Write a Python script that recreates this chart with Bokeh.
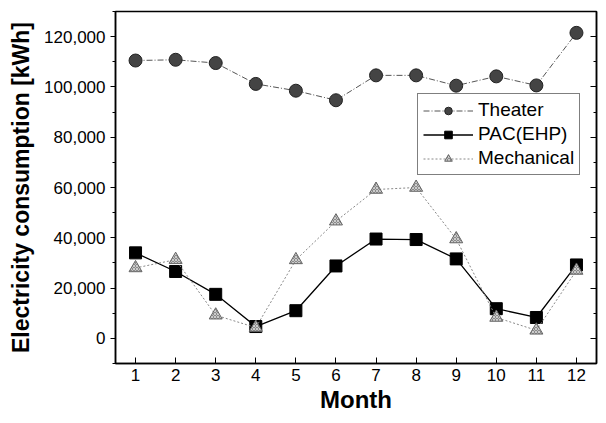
from bokeh.plotting import figure
from bokeh.embed import file_html
from bokeh.resources import INLINE
from bokeh.models import (Range1d, NumeralTickFormatter, FixedTicker, LinearAxis,
                          Legend, LegendItem)

months = [1, 2, 3, 4, 5, 6, 7, 8, 9, 10, 11, 12]
theater = [110500, 110800, 109500, 101200, 98500, 94700, 104600, 104600, 100500, 104200, 100600, 121500]
pac_ehp = [34000, 26600, 17500, 4700, 11000, 28800, 39500, 39300, 31600, 11800, 8300, 29200]
mechanical = [28000, 31300, 9200, 4300, 31200, 46600, 59200, 60000, 39500, 8300, 3200, 27000]
y_ticks = [0, 20000, 40000, 60000, 80000, 100000, 120000]
y_minor = [-10000, 10000, 30000, 50000, 70000, 90000, 110000, 130000]

FONT = "Liberation Sans"

p = figure(width=598, height=415, output_backend="svg", toolbar_location=None,
           x_range=Range1d(0.5, 12.5), y_range=Range1d(-10000, 130000),
           min_border_left=115, min_border_right=2, min_border_top=11, min_border_bottom=50)
p.grid.visible = False
p.outline_line_color = "black"
p.outline_line_width = 1.5

r1 = p.line(months, theater, line_color="#555555", line_width=1, line_dash="6 2 1 2")
s1 = p.scatter(months, theater, marker="circle", size=13, fill_color="#444444",
               line_color="#222222")
r2 = p.line(months, pac_ehp, line_color="black", line_width=1.3)
s2 = p.scatter(months, pac_ehp, marker="square", size=12, fill_color="black", line_color="black")
r3 = p.line(months, mechanical, line_color="#888888", line_width=1, line_dash="2 2")
s3 = p.scatter(months, mechanical, marker="triangle", size=13, fill_color="#8a8a8a",
               line_color="#666666", hatch_pattern="x", hatch_color="#cccccc", hatch_scale=3)

xa = p.xaxis[0]
xa.ticker = FixedTicker(ticks=months)
xa.axis_label = "Month"
xa.axis_label_text_font = FONT
xa.axis_label_text_font_style = "bold"
xa.axis_label_text_font_size = "24px"
xa.axis_label_text_color = "black"
xa.axis_label_standoff = 2
xa.major_label_text_font = FONT
xa.major_label_text_font_size = "17px"
xa.major_label_text_color = "black"
xa.major_tick_in = 6
xa.major_tick_out = 0
xa.minor_tick_in = 0
xa.minor_tick_out = 0
xa.axis_line_width = 1.5
xa.axis_line_color = "black"
xa.major_tick_line_color = "black"

ya = p.yaxis[0]
ya.ticker = FixedTicker(ticks=y_ticks, minor_ticks=y_minor)
ya.formatter = NumeralTickFormatter(format="0,0")
ya.axis_label = "Electricity consumption [kWh]"
ya.axis_label_text_font = FONT
ya.axis_label_text_font_style = "bold"
ya.axis_label_text_font_size = "23px"
ya.axis_label_text_color = "black"
ya.axis_label_standoff = 7
ya.major_label_text_font = FONT
ya.major_label_text_font_size = "17px"
ya.major_label_text_color = "black"
ya.major_tick_in = 0
ya.major_tick_out = 5
ya.minor_tick_in = 0
ya.minor_tick_out = 3
ya.axis_line_width = 1.5
ya.axis_line_color = "black"
ya.major_tick_line_color = "black"
ya.minor_tick_line_color = "black"

ra = LinearAxis(ticker=FixedTicker(ticks=y_ticks, minor_ticks=y_minor),
                major_label_text_font_size="0px", major_tick_in=6, major_tick_out=0,
                minor_tick_in=3, minor_tick_out=0, axis_line_width=1.5,
                axis_line_color="black", major_tick_line_color="black",
                minor_tick_line_color="black")
p.add_layout(ra, "right")

legend = Legend(items=[
    LegendItem(label="Theater", renderers=[r1, s1]),
    LegendItem(label="PAC(EHP)", renderers=[r2, s2]),
    LegendItem(label="Mechanical", renderers=[r3, s3]),
], location=(302, 188))
legend.label_text_font = FONT
legend.label_text_font_size = "19px"
legend.label_text_color = "black"
legend.glyph_width = 50
legend.glyph_height = 19
legend.label_standoff = 5
legend.label_height = 19
legend.spacing = 2
legend.padding = 5
legend.margin = 0
legend.border_line_color = "black"
legend.border_line_width = 1.2
legend.background_fill_alpha = 1
p.add_layout(legend)

open("out.html", "w").write(file_html(p, INLINE))
